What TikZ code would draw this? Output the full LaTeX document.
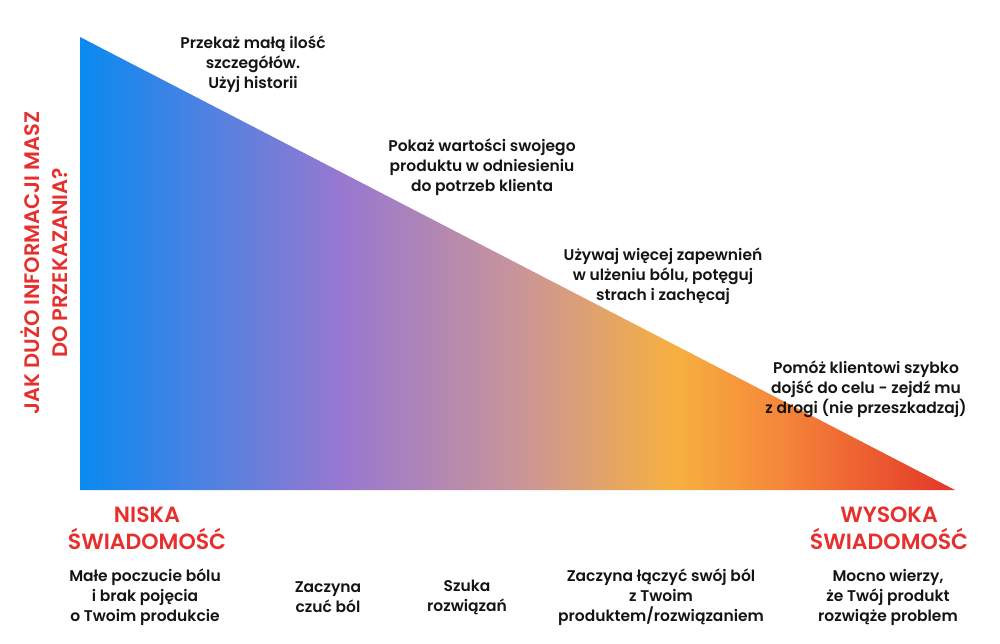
\documentclass[tikz,border=0pt]{standalone}
\usepackage{fontspec}
\setmainfont{Poppins}[BoldFont={Poppins SemiBold}]
\definecolor{c0}{HTML}{0A8AF0}
\definecolor{c1}{HTML}{9878D0}
\definecolor{c2}{HTML}{C9949A}
\definecolor{c3}{HTML}{F7B040}
\definecolor{c4}{HTML}{F5873A}
\definecolor{c5}{HTML}{E43528}
\definecolor{redtxt}{HTML}{E5302E}
\definecolor{darktxt}{HTML}{141414}
\pgfdeclarehorizontalshading{trishade}{100bp}{color(0bp)=(c0); color(25bp)=(c0); color(40bp)=(c1); color(50bp)=(c2); color(59bp)=(c3); color(65bp)=(c4); color(75bp)=(c5); color(100bp)=(c5)}
\tikzset{
  body/.style={align=center, text=darktxt, font=\bfseries\fontsize{15.5}{20}\selectfont},
  head/.style={align=center, text=redtxt, font=\bfseries\fontsize{22}{27}\selectfont},
}
\begin{document}
\begin{tikzpicture}[x=1pt,y=-1pt]
\useasboundingbox (0,0) rectangle (1000,643);
\coordinate (tl) at (80,37);
\coordinate (bl) at (80,490);
\coordinate (br) at (955,490);
\shade[shading=trishade] (tl) -- (br) -- (bl) -- cycle;

\node[body] (t1) at (253,64) {Przekaż małą ilość\\szczegółów.\\Użyj historii};
\node[body] (t2) at (482,167) {Pokaż wartości swojego\\produktu w odniesieniu\\do potrzeb klienta};
\node[body] (t3) at (663,276) {Używaj więcej zapewnień\\w ulżeniu bólu, potęguj\\strach i zachęcaj};
\node[body] (t4) at (866,389) {Pomóż klientowi szybko\\dojść do celu - zejdź mu\\z drogi (nie przeszkadzaj)};

\node[head, rotate=90, font=\bfseries\fontsize{21}{28}\selectfont] (yl) at (44,263) {JAK DUŻO INFORMACJI MASZ\\DO PRZEKAZANIA?};

\node[head] (lo) at (147,528) {NISKA\\ŚWIADOMOŚĆ};
\node[head] (hi) at (889,528) {WYSOKA\\ŚWIADOMOŚĆ};

\node[body] (b1) at (145,597) {Małe poczucie bólu\\i brak pojęcia\\o Twoim produkcie};
\node[body] (b2) at (328,597) {Zaczyna\\czuć ból};
\node[body] (b3) at (467,597) {Szuka\\rozwiązań};
\node[body] (b4) at (661,597) {Zaczyna łączyć swój ból\\z Twoim\\produktem/rozwiązaniem};
\node[body] (b5) at (888,597) {Mocno wierzy,\\że Twój produkt\\rozwiąże problem};
\end{tikzpicture}
\end{document}
